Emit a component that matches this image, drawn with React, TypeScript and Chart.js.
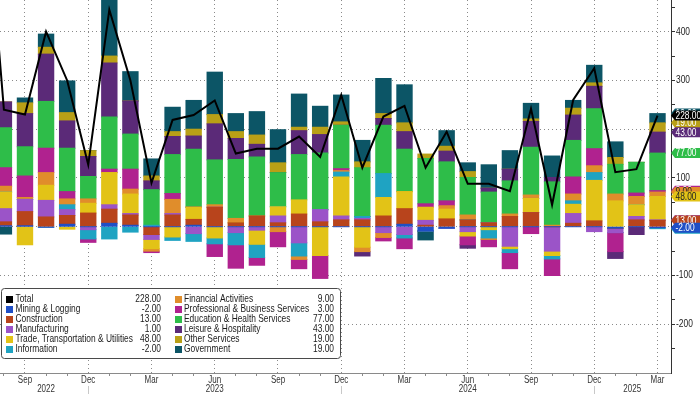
import React, { useEffect, useRef } from 'react';
import { Chart, registerables } from 'chart.js';
Chart.register(...registerables);

// Month index 0 = Jul 2022 ... 32 = Mar 2025
const monthNames = ['Jul', 'Aug', 'Sep', 'Oct', 'Nov', 'Dec', 'Jan', 'Feb', 'Mar', 'Apr', 'May', 'Jun', 'Jul', 'Aug', 'Sep', 'Oct', 'Nov', 'Dec', 'Jan', 'Feb', 'Mar', 'Apr', 'May', 'Jun', 'Jul', 'Aug', 'Sep', 'Oct', 'Nov', 'Dec', 'Jan', 'Feb', 'Mar'];
const shownMonths = ['Sep', 'Dec', 'Mar', 'Jun'];
const yearLabels = ['2022', '2023', '2024', '2025'];
const yearAnchors = [3, 11, 23, 30.8];
const yTickLabels = [-200, -100, 0, 100, 200, 300, 400];

const total = [770, 240, 230, 400, 300, 127, 445, 300, 90, 219, 229, 259, 150, 160, 160, 185, 143, 270, 121, 226, 248, 121, 195, 88, 88, 73, 242, 45, 260, 325, 112, 118, 228];
const mining = [null, 2, 2, -1, 5, 0, 7, 3, 0, 0, 3, 0, 0, 0, 0, 0, 0, 0, 0, 0, 5, -9, -3, 0, 0, 0, 0, 0, 0, 0, -3, 0, -2];
const construction = [null, 8, 29, 20, 18, 28, 29, 21, -16, 24, 12, 40, 8, 22, 8, 26, 10, 14, 14, 22, 32, 3, 16, 14, 8, 21, 29, 0, 7, 12, 0, 14, 13];
const manufacturing = [null, 27, 25, 34, 12, -6, 9, 3, -10, 3, -14, 0, -12, -7, 14, -33, 25, 8, 3, -12, -16, 10, 0, -10, 0, -40, 0, -50, 20, -10, -9, 7, 1];
const trade = [null, 34, -37, 31, -5, 20, 66, 40, -19, -21, 25, -23, 0, -29, 19, 29, -59, 80, -42, 38, 35, 27, 20, -9, -6, -5, 29, -9, 19, 83, 53, 24, 48];
const information = [null, 0, 0, 0, 10, -19, -25, -11, 3, -7, -16, -12, -25, -27, 0, -27, 0, 10, 4, 49, -7, 0, 0, 0, -17, -8, 0, -7, 7, 16, 0, 0, -2];
const financial = [null, 12, 4, 26, 12, 9, 0, 10, -5, 29, 0, 5, 9, 0, -10, -7, 0, 3, -9, -10, 0, 0, 7, 10, -3, 5, 7, 3, 14, 14, 14, 17, 9];
const professional = [null, 38, 44, 50, 15, -7, 7, 41, -3, 12, 0, -26, -48, -16, -31, -19, -47, 4, 0, -7, -22, 7, 10, -18, -15, -33, -14, -34, 35, 35, -39, 7, 3];
const education = [null, 82, 60, 96, 89, 46, 107, 72, 73, 80, 119, 92, 121, 121, 70, 93, 116, 89, 100, 99, 87, 93, 80, 77, 63, 68, 98, 89, 75, 82, 61, 63, 77];
const leisure = [null, 53, 68, 97, 56, 41, 111, 68, 18, 37, 27, 74, 43, 26, 0, 49, 38, 0, -9, 14, 36, 0, 22, -7, 8, 24, 53, 9, 52, 46, -14, -16, 43];
const otherServices = [null, 0, 22, 14, 17, 12, 14, 0, 10, 10, 14, 19, 14, 19, 20, 7, 15, 7, 12, 10, 18, 9, 10, 12, 0, 0, 5, 0, 14, 7, 14, 0, 19];
const government = [null, -15, 10, 27, 65, 0, 120, 60, 35, 50, 59, 87, 37, 48, 68, 68, 43, 55, 44, 72, 78, -18, 32, 18, 48, 38, 32, 44, 16, 36, 32, 0, 19];

const sectorNames = ['Mining & Logging', 'Construction', 'Manufacturing', 'Trade, Transportation & Utilities', 'Information', 'Financial Activities', 'Professional & Business Services', 'Education & Health Services', 'Leisure & Hospitality', 'Other Services', 'Government'];
const sectorValues = [mining, construction, manufacturing, trade, information, financial, professional, education, leisure, otherServices, government];
const sectorColors = ['#1f4fc6', '#b8441c', '#9b54c8', '#e2c317', '#1fa3c2', '#e08d2b', '#b0228f', '#2ebd49', '#5b2a78', '#b9a016', '#0c5566'];
const tagText = ['#fff', '#fff', '#fff', '#222', '#fff', '#222', '#fff', '#fff', '#fff', '#fff', '#fff'];

const FONT = '"Liberation Sans", Arial, sans-serif';
const SQUEEZE = 0.8;

function txt(ctx: CanvasRenderingContext2D, s: string, x: number, y: number, align: CanvasTextAlign, size = 10.5, color = '#1a1a1a') {
  ctx.save();
  ctx.translate(x, y);
  ctx.scale(SQUEEZE, 1);
  ctx.font = `${size}px ${FONT}`;
  ctx.fillStyle = color;
  ctx.textAlign = align;
  ctx.textBaseline = 'middle';
  ctx.fillText(s, 0, 0);
  ctx.restore();
}

export default function App() {
  const ref = useRef<HTMLCanvasElement>(null);
  useEffect(() => {
    document.body.style.margin = '0';
    const canvas = ref.current!;
    const last = total.length - 1;
    const isQuarter = (v: number) => Math.abs(v - Math.round(v)) < 1e-6 && Math.round(v) % 3 === 2;

    const datasets: any[] = sectorNames.map((name, k) => ({
      type: 'bar',
      label: name,
      data: monthNames.map((_, i) => ({ x: i, y: sectorValues[k][i] })).slice(1),
      backgroundColor: sectorColors[k],
      borderWidth: 0,
      inflateAmount: 0.5,
      stack: 'sectors',
      order: 2,
      categoryPercentage: 1,
      barPercentage: 0.73,
    }));
    datasets.push({
      type: 'line',
      label: 'Total',
      data: monthNames.map((_, i) => ({ x: i, y: total[i] })),
      borderColor: '#000',
      borderWidth: 2,
      pointRadius: 0,
      tension: 0,
      stack: 'total',
      order: 0,
    });

    const overlay = {
      id: 'overlay',
      afterDraw(chart: any) {
        const ctx = chart.ctx as CanvasRenderingContext2D;
        const xs = chart.scales.x;
        const ys = chart.scales.y;
        const area = chart.chartArea;
        ctx.save();
        // month labels + year separators
        for (let i = 1; i < monthNames.length; i++) {
          const x = xs.getPixelForValue(i);
          if (shownMonths.includes(monthNames[i])) {
            txt(ctx, monthNames[i], x, area.bottom + 7, 'center', 10, '#333');
          }
          if (monthNames[i] === 'Dec') {
            const px = Math.round(x) + 0.5;
            ctx.strokeStyle = '#c8c8c8';
            ctx.lineWidth = 1;
            ctx.beginPath();
            ctx.moveTo(px, area.bottom + 13);
            ctx.lineTo(px, 394);
            ctx.stroke();
          }
        }
        yearLabels.forEach((y, k) => {
          txt(ctx, y, xs.getPixelForValue(yearAnchors[k]), area.bottom + 16.5, 'center', 10, '#333');
        });

        // y tick labels
        yTickLabels.forEach((v) => {
          txt(ctx, String(v), area.right + 5, ys.getPixelForValue(v), 'left', 10.5, '#222');
        });

        // legend box
        const lx = 1, ly = 288.5, lw = 339, lh = 70;
        ctx.beginPath();
        (ctx as any).roundRect(lx + 0.5, ly, lw, lh, 3);
        ctx.fillStyle = '#ffffff';
        ctx.fill();
        ctx.strokeStyle = '#4a4a4a';
        ctx.lineWidth = 1;
        ctx.stroke();
        const entries: { name: string; color: string; value: number }[] = [
          { name: 'Total', color: '#000', value: total[last] },
          ...sectorNames.map((n, k) => ({ name: n, color: sectorColors[k], value: sectorValues[k][last] as number })),
        ];
        entries.forEach((e, idx) => {
          const col = idx < 6 ? 0 : 1;
          const row = idx % 6;
          const y = 299.5 + row * 10;
          const sx = col === 0 ? 6 : 175;
          const tx = col === 0 ? 15.5 : 184;
          const vx = col === 0 ? 161 : 334;
          ctx.fillStyle = e.color;
          ctx.fillRect(sx, y - 3.5, 7, 7);
          txt(ctx, e.name, tx, y, 'left', 10.5, '#1a1a1a');
          txt(ctx, e.value.toFixed(2), vx, y, 'right', 10.5, '#1a1a1a');
        });

        // right-hand value tags (at the top of each segment of the last bar)
        let pos = 0, neg = 0;
        const tops: number[] = [];
        sectorValues.forEach((arr) => {
          const v = arr[last] as number;
          if (v >= 0) { pos += v; tops.push(pos); } else { neg += v; tops.push(neg); }
        });
        const tag = (value: number, text: string, bg: string, fg: string) => {
          const y = ys.getPixelForValue(value);
          const x0 = area.right;
          ctx.beginPath();
          ctx.moveTo(x0, y);
          ctx.lineTo(x0 + 4, y - 5);
          ctx.lineTo(702, y - 5);
          ctx.lineTo(702, y + 5);
          ctx.lineTo(x0 + 4, y + 5);
          ctx.closePath();
          ctx.fillStyle = bg;
          ctx.fill();
          txt(ctx, text, x0 + 4.5, y + 0.5, 'left', 10.5, fg);
        };
        for (let k = sectorValues.length - 1; k >= 0; k--) {
          const v = sectorValues[k][last] as number;
          tag(tops[k], v.toFixed(2), sectorColors[k], tagText[k]);
        }
        tag(total[last], total[last].toFixed(2), '#000', '#fff');
        ctx.restore();
      },
    };

    const chart = new Chart(canvas, {
      type: 'bar',
      data: { datasets },
      options: {
        animation: false,
        responsive: false,
        maintainAspectRatio: false,
        layout: { padding: 0 },
        plugins: { legend: { display: false }, tooltip: { enabled: false } },
        scales: {
          x: {
            type: 'linear',
            stacked: true,
            offset: false,
            min: 0.815,
            max: 32.64,
            afterBuildTicks: (axis: any) => {
              axis.ticks = monthNames.map((_, i) => ({ value: i })).slice(1);
            },
            afterFit: (axis: any) => { axis.height = 21; },
            ticks: { display: false },
            grid: {
              offset: false,
              color: (c: any) => (c.tick && isQuarter(c.tick.value) ? '#8a8a8a' : 'rgba(0,0,0,0)'),
              tickColor: (c: any) => (c.tick && !isQuarter(c.tick.value) ? '#8a8a8a' : 'rgba(0,0,0,0)'),
              tickLength: 3,
              tickBorderDash: [],
              lineWidth: 1,
            },
            border: { display: true, color: '#8a8a8a', width: 1, dash: [1, 3] },
          },
          y: {
            type: 'linear',
            position: 'right',
            stacked: true,
            min: -300,
            max: 465,
            afterBuildTicks: (axis: any) => {
              const t: any[] = [];
              for (let v = -250; v <= 450; v += 50) t.push({ value: v });
              axis.ticks = t;
            },
            afterFit: (axis: any) => { axis.width = 29; },
            ticks: { display: false },
            grid: {
              color: (c: any) => (c.tick && c.tick.value % 100 === 0 ? '#8a8a8a' : 'rgba(0,0,0,0)'),
              tickColor: '#333',
              tickLength: 4,
              tickBorderDash: [],
            },
            border: { display: true, color: '#333', width: 1, dash: [1, 3] },
          },
        },
      } as any,
      plugins: [overlay],
    });
    return () => chart.destroy();
  }, []);
  return (
    <div style={{ width: 700, height: 394 }}>
      <canvas ref={ref} width={700} height={394} style={{ display: 'block' }} />
    </div>
  );
}
